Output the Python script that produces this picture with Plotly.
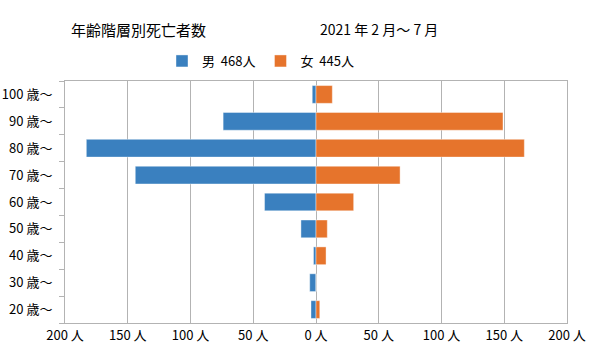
import plotly.graph_objects as go

categories = ["20 歳～", "30 歳～", "40 歳～", "50 歳～", "60 歳～", "70 歳～", "80 歳～", "90 歳～", "100 歳～"]
male = [4, 5, 2, 12, 41, 144, 183, 74, 3]
female = [3, 0, 8, 9, 30, 67, 166, 149, 13]
male_name = "男  468人"
female_name = "女  445人"
x_tickvals = [-200, -150, -100, -50, 0, 50, 100, 150, 200]
x_ticktext = ["200 人", "150 人", "100 人", "50 人", "0 人", "50 人", "100 人", "150 人", "200 人"]
title_text = "年齢階層別死亡者数"
period_text = "2021 年 2 月～ 7 月"

FONT = "Noto Sans CJK JP, sans-serif"
BLUE = "#3A80BF"
ORANGE = "#E6742C"

W, H = 600, 355
PL, PR, PT, PB = 65, 567, 81, 323

fig = go.Figure()
fig.add_trace(go.Bar(y=categories, x=[-v for v in male], orientation="h", name=male_name,
                     marker=dict(color=BLUE, line=dict(color="rgba(255,255,255,0.5)", width=0.8))))
fig.add_trace(go.Bar(y=categories, x=female, orientation="h", name=female_name,
                     marker=dict(color=ORANGE, line=dict(color="rgba(255,255,255,0.5)", width=0.8))))

fig.update_layout(
    width=W, height=H,
    margin=dict(l=PL, r=W - PR, t=PT, b=H - PB, autoexpand=False),
    barmode="relative", bargap=0.34,
    plot_bgcolor="white", paper_bgcolor="white",
    font=dict(family=FONT, size=13, color="#000000"),
    showlegend=True,
    legend=dict(orientation="h", xref="container", yref="container",
                x=162 / W, xanchor="left", y=1 - 61 / H, yanchor="middle",
                font=dict(size=13), itemwidth=30, traceorder="normal",
                tracegroupgap=0, bgcolor="rgba(0,0,0,0)"),
    xaxis=dict(range=[-200, 200], tickvals=x_tickvals, ticktext=x_ticktext, automargin=False,
               showgrid=True, gridcolor="#B3B3B3", gridwidth=1,
               zeroline=True, zerolinecolor="#B3B3B3", zerolinewidth=1,
               showline=True, linecolor="#B3B3B3", linewidth=1, mirror=True,
               ticks="", tickfont=dict(size=13)),
    yaxis=dict(type="category", showgrid=False, showline=True, linecolor="#B3B3B3", linewidth=1,
               automargin=False, ticklabelstandoff=9,
               mirror=True, ticks="outside", tickson="boundaries", ticklen=5, tickcolor="#B3B3B3",
               tickfont=dict(size=13)),
    annotations=[
        dict(text=title_text, xref="paper", yref="paper", x=(69 - PL) / (PR - PL),
             y=1 + (PT - 29) / (PB - PT),
             xanchor="left", yanchor="middle", showarrow=False, font=dict(size=15)),
        dict(text=period_text, xref="paper", yref="paper", x=(318 - PL) / (PR - PL),
             y=1 + (PT - 29) / (PB - PT),
             xanchor="left", yanchor="middle", showarrow=False, font=dict(size=14)),
    ],
)

fig.write_html("out.html", config={"displayModeBar": False},
               post_script="document.body.style.margin='0';")
